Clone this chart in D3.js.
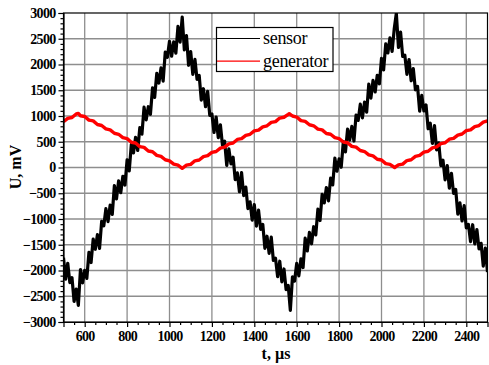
<!DOCTYPE html>
<html><head><meta charset="utf-8">
<script src="https://cdn.jsdelivr.net/npm/d3@7"></script>
<style>
body{margin:0;background:#fff;}
svg{display:block;}
.tick text{font-family:"Liberation Serif","Times New Roman",serif;font-weight:bold;font-size:14px;letter-spacing:-0.7px;fill:#000;}
</style></head>
<body>
<svg id="chart" width="489" height="365"></svg>
<script>
// ---- data ----
const xTicks = [600, 800, 1000, 1200, 1400, 1600, 1800, 2000, 2200, 2400];
const yTicks = [-3000, -2500, -2000, -1500, -1000, -500, 0, 500, 1000, 1500, 2000, 2500, 3000];
const seriesNames = ["sensor", "generator"];
const sensorStart = 500, sensorStep = 10;
const sensorU = [
 -1750,-2170,-1860,-2235,-2140,-2600,-2360,-2676,-1983,-2239,
 -1996,-2152,-1649,-1845,-1391,-1588,-1304,-1571,-1047,-1134,
 -800,-1050,-730,-910,-350,-610,-260,-490,-170,-340,
 150,-66,448,282,586,330,774,648,1172,926,
 1180,1034,1548,1362,1826,1640,1934,1678,2240,2140,
 2450,2160,2440,2220,2740,2435,2920,2285,2560,1985,
 2250,1810,2100,1710,1790,1310,1530,1180,1480,1010,
 1040,680,980,580,830,430,510,40,360,70,
 200,-237,-104,-471,-98,-545,-382,-799,-666,-1023,
 -720,-1137,-827,-1201,-1105,-1569,-1334,-1668,-1352,-1806,
 -1760,-2120,-1820,-2220,-1970,-2370,-2290,-2775,-2124,-2204,
 -1863,-2103,-1773,-1942,-1372,-1621,-1261,-1481,-1150,-1310,
 -810,-1030,-520,-689,-389,-648,-208,-338,183,-71,
 167,5,504,302,747,533,798,514,1019,914,
 1230,965,1270,1076,1621,1347,1692,1467,1791,1626,
 2120,1895,2400,2224,2519,2253,2688,2994,2331,2628,
 2155,2182,1810,2097,1684,1921,1509,1576,1093,1400,
 1098,1215,752,859,467,814,341,478,36,143,
 -240,39,-402,-113,-504,-426,-907,-688,-1039,-740,
 -1173,-1105,-1438,-1111,-1484,-1206,-1579,-1472,-1915,-1567,
 -2030
];
const genT = [500,520,540,560,570,580,600,620,640,660,680,700,720,740,760,780,800,820,840,860,880,900,920,940,960,980,1000,1020,1040,1060,
 1080,1100,1120,1140,1160,1180,1200,1220,1240,1260,1280,1300,1320,1340,1360,1380,1400,1420,1440,1460,1480,1500,1520,1540,1560,1565,
 1580,1600,1620,1640,1660,1680,1700,1720,1740,1760,1780,1800,1820,1840,1860,1880,1900,1920,1940,1960,1980,2000,2020,2040,2062,
 2080,2100,2120,2140,2160,2180,2200,2220,2240,2260,2280,2300,2320,2340,2360,2380,2400,2420,2440,2460,2480,2500];
const genU = [890,955,970,1040,1050,1005,990,920,905,835,815,750,730,665,645,580,560,490,475,405,390,320,305,235,215,150,130,65,45,-15,
 45,60,130,145,210,230,295,310,375,395,460,475,545,560,625,645,710,725,790,810,875,890,960,975,1030,1045,
 1000,980,910,895,830,810,745,730,660,645,580,560,495,480,410,395,330,310,245,225,160,145,75,60,0,
 50,65,135,150,215,235,300,315,380,400,465,480,550,565,630,650,715,730,795,815,880,905];

// ---- layout ----
const svg = d3.select("#chart");
const L = 63.5, R = 487.5, T = 13, B = 322;
const x = d3.scaleLinear().domain([500, 2500]).range([L, R]);
const y = d3.scaleLinear().domain([-3000, 3000]).range([B, T]);

// grid
const grid = svg.append("g");
grid.selectAll("line.gx").data(xTicks).enter().append("line")
  .attr("x1", d => x(d)).attr("x2", d => x(d)).attr("y1", T).attr("y2", B)
  .attr("stroke", "#8e8e8e").attr("stroke-width", 1.3);
grid.selectAll("line.gy").data(yTicks.filter(v => v > -3000 && v < 3000)).enter().append("line")
  .attr("x1", L).attr("x2", R).attr("y1", d => y(d)).attr("y2", d => y(d))
  .attr("stroke", "#8e8e8e").attr("stroke-width", 1.3);

// clip
svg.append("clipPath").attr("id", "clip").append("rect")
  .attr("x", L).attr("y", T).attr("width", R - L).attr("height", B - T);

const sensorData = sensorU.map((u, i) => [sensorStart + i * sensorStep, u]);
const genData = genU.map((u, i) => [genT[i], u]);
const line = d3.line().x(d => x(d[0])).y(d => y(d[1]));

const plot = svg.append("g").attr("clip-path", "url(#clip)");
plot.append("path").datum(sensorData).attr("d", line)
  .attr("fill", "none").attr("stroke", "#000").attr("stroke-width", 3.2).attr("stroke-linejoin", "round");
plot.append("path").datum(genData).attr("d", line)
  .attr("fill", "none").attr("stroke", "#ff0000").attr("stroke-width", 3.4).attr("stroke-linejoin", "round");

// axes
const xMinor = d3.range(550, 2500, 50).filter(v => !xTicks.includes(v));
const yMinor = d3.range(-2900, 3000, 100).filter(v => !yTicks.includes(v));

svg.append("g").attr("transform", `translate(0,${B})`)
  .call(d3.axisBottom(x).tickValues(xTicks).tickSize(5).tickPadding(4).tickFormat(d3.format("d")));
svg.append("g").attr("transform", `translate(0,${B})`)
  .call(d3.axisBottom(x).tickValues(xMinor).tickSize(3).tickFormat(""))
  .call(g => g.select(".domain").remove());
svg.append("g").attr("transform", `translate(${L},0)`)
  .call(d3.axisLeft(y).tickValues(yTicks).tickSize(5).tickPadding(3).tickFormat(d3.format("d")));
svg.append("g").attr("transform", `translate(${L},0)`)
  .call(d3.axisLeft(y).tickValues(yMinor).tickSize(3).tickFormat(""))
  .call(g => g.select(".domain").remove());
svg.selectAll(".domain").attr("stroke", "#000").attr("stroke-width", 1.2);
svg.selectAll(".tick line").attr("stroke", "#000").attr("stroke-width", 1.2);

// frame
svg.append("rect").attr("x", L).attr("y", T).attr("width", R - L).attr("height", B - T)
  .attr("fill", "none").attr("stroke", "#000").attr("stroke-width", 1.2);

// axis titles
svg.append("text").attr("x", 276).attr("y", 359).attr("text-anchor", "middle")
  .attr("font-family", "Liberation Serif, Times New Roman, serif").attr("font-weight", "bold")
  .attr("font-size", 16).text("t, µs");
svg.append("text").attr("transform", "translate(21,167) rotate(-90)").attr("text-anchor", "middle")
  .attr("font-family", "Liberation Serif, Times New Roman, serif").attr("font-weight", "bold")
  .attr("font-size", 16).text("U, mV");

// legend
const lg = svg.append("g");
lg.append("rect").attr("x", 216.5).attr("y", 27.5).attr("width", 116.5).attr("height", 44)
  .attr("fill", "#fff").attr("stroke", "#000").attr("stroke-width", 1.2);
const colors = ["#000", "#ff0000"];
seriesNames.forEach((n, i) => {
  const ly = 38.5 + i * 22.7;
  lg.append("line").attr("x1", 217).attr("x2", 260).attr("y1", ly).attr("y2", ly)
    .attr("stroke", colors[i]).attr("stroke-width", 1.2);
  lg.append("text").attr("x", 263).attr("y", ly + 5.5)
    .attr("font-family", "Liberation Serif, Times New Roman, serif").attr("font-size", 18)
    .attr("letter-spacing", "-0.3px").text(n);
});
</script>
</body></html>
